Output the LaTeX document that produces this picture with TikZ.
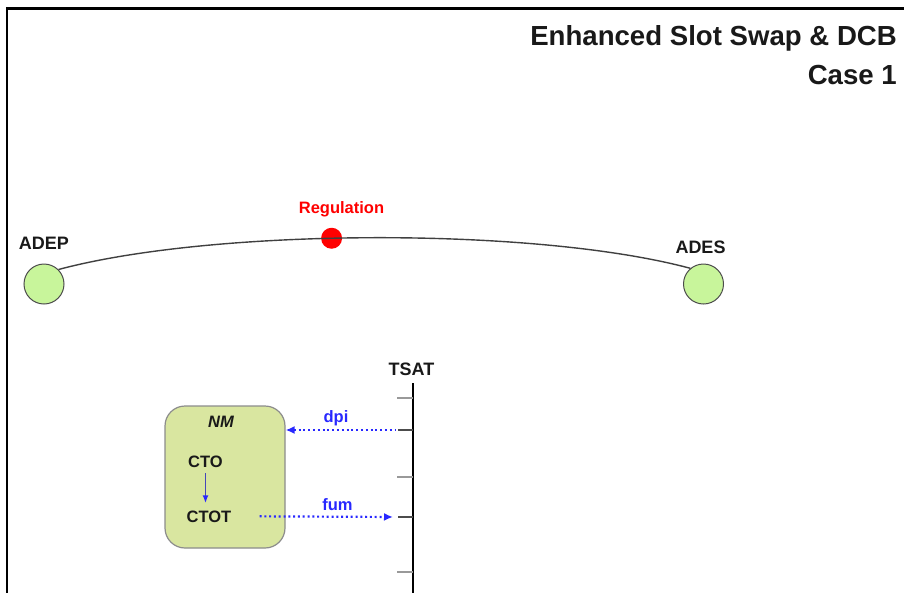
\documentclass[tikz,border=0pt]{standalone}
\usepackage{fontspec}
\setmainfont{Liberation Sans}
\usepackage{xcolor}
\usepackage{tikz}
\usetikzlibrary{arrows.meta, positioning, calc}
\definecolor{airportgreen}{RGB}{200, 245, 155}
\definecolor{nmfill}{RGB}{217, 230, 160}
\definecolor{msgblue}{RGB}{40, 40, 255}
\definecolor{regred}{RGB}{255, 0, 0}

\begin{document}
\begin{tikzpicture}[x=1pt, y=1pt,
    titletext/.style={font=\bfseries\fontsize{27.6}{32}\selectfont, text=black!90, inner sep=0pt},
    biglbl/.style={font=\bfseries\fontsize{18}{21}\selectfont, text=black!90, inner sep=0pt},
    smalllbl/.style={font=\bfseries\fontsize{16.5}{19}\selectfont, text=black!90, inner sep=0pt},
    airport/.style={circle, draw=black!70, fill=airportgreen, line width=1pt, minimum size=40pt, inner sep=0pt},
    regdot/.style={circle, fill=regred, minimum size=21pt, inner sep=0pt},
    nmbox/.style={draw=black!45, fill=nmfill, line width=1.2pt, rounded corners=20pt,
                  minimum width=120pt, minimum height=142pt},
    minortick/.style={black!40, line width=2.4pt},
    majortick/.style={black!70, line width=1.4pt},
    msg/.style={msgblue, line width=2.2pt, dash pattern=on 2pt off 2.8pt},
    ctoarrow/.style={blue!45!gray, line width=1.6pt, -{Latex[length=8pt, width=6pt, color=msgblue]}}
]
\useasboundingbox (0,0) rectangle (904,-592);

% Frame
\draw[line width=2.6pt] (7,-600) -- (7,-8.7) -- (910,-8.7);

% Title
\node[titletext, anchor=base east] (title) at (897,-45) {Enhanced Slot Swap \& DCB};
\node[titletext, anchor=base east] (case) at (897,-84) {Case 1};

% Airports
\node[airport] (adep) at (44,-284) {};
\node[airport] (ades) at (703.5,-284) {};
\node[biglbl, anchor=base] (adeplbl) at (44,-249) {ADEP};
\node[biglbl, anchor=base] (adeslbl) at (700.5,-253) {ADES};

% Trajectory with regulation point
\path (adep.45) to[out=15, in=165, looseness=0.65] coordinate[pos=0.44] (regpt) (ades.130);
\node[regdot] (reg) at (regpt) {};
\draw[black!75, line width=1.4pt] (adep.45) to[out=15, in=165, looseness=0.65] (ades.130);
\node[smalllbl, text=regred, anchor=base] (reglbl) at (341.5,-213) {Regulation};

% TSAT axis
\coordinate (tsattop) at (413,-383);
\coordinate (tsatbot) at (413,-600);
\draw[line width=2.8pt] (tsattop) -- (tsatbot);
\node[biglbl, anchor=base] (tsat) at (411.5,-375) {TSAT};
\foreach \y in {398, 477, 572}
  \draw[minortick] (397,-\y) -- (413,-\y);
\coordinate (dpitick) at (398,-430);
\coordinate (fumtick) at (398,-517);
\draw[majortick] (dpitick) -- ++(15,0);
\draw[majortick] (fumtick) -- ++(15,0);

% NM box
\node[nmbox] (nm) at (225,-477) {};
\node[smalllbl, font=\bfseries\itshape\fontsize{16.5}{19}\selectfont, anchor=base] (nmlbl) at (221,-427) {NM};
\node[smalllbl, anchor=base] (cto) at (205.5,-467) {CTO};
\node[smalllbl, anchor=base] (ctot) at (209,-522) {CTOT};
\draw[ctoarrow, shorten <=6pt, shorten >=7pt] (cto.south) -- (cto.south |- ctot.north);

% Messages
\draw[msg, {Latex[length=9pt, width=8pt]}-, shorten >=3pt] (nm.east |- dpitick) -- (dpitick);
\node[smalllbl, text=msgblue, anchor=base] (dpilbl) at (336,-422) {dpi};
\draw[msg, -{Latex[length=9pt, width=8pt]}, shorten >=5pt] ([xshift=28pt]ctot.east) -- (fumtick);
\node[smalllbl, text=msgblue, anchor=base] (fumlbl) at (337.5,-510) {fum};

\end{tikzpicture}
\end{document}
